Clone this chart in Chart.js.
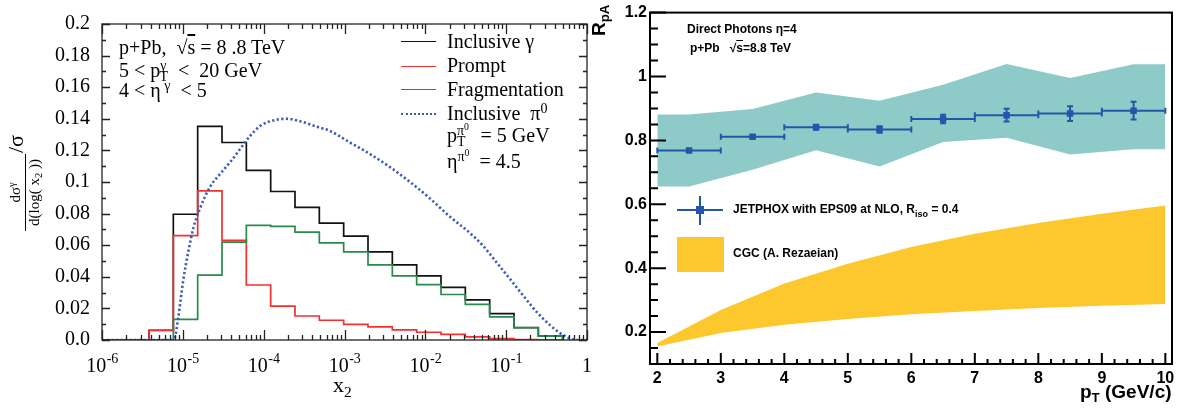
<!DOCTYPE html>
<html><head><meta charset="utf-8">
<script src="https://cdn.jsdelivr.net/npm/chart.js@4.4.1/dist/chart.umd.min.js"></script>
<style>
html,body{margin:0;padding:0;background:#fff;}
#wrap{position:relative;width:1189px;height:408px;overflow:hidden;background:#fff;}
.pane{position:absolute;top:0;height:408px;}
.t{position:absolute;white-space:nowrap;color:#000;z-index:5;}
.serif{font-family:"Liberation Serif","Times New Roman",serif;font-size:20px;line-height:20px;}
.sans{font-family:"Liberation Sans",Arial,sans-serif;font-weight:bold;font-size:12px;line-height:14px;}
.sup{position:relative;top:-0.5em;font-size:0.7em;line-height:0;}
.sub{position:relative;top:0.3em;font-size:0.7em;line-height:0;}
.ln{position:absolute;z-index:5;}
</style></head>
<body>
<div id="wrap">
  <div class="pane" style="left:0;width:600px;"><canvas id="c1"></canvas></div>
  <div class="pane" style="left:600px;width:589px;"><canvas id="c2"></canvas></div>

  <!-- left panel annotations -->
  <div class="t serif" style="left:119px;top:37px;">p+Pb,&nbsp; √<span style="text-decoration:overline">s</span> = 8 .8 TeV</div>
  <div class="t serif" style="left:119px;top:60px;">5 &lt; p<span class="sup">γ</span><span class="sub" style="margin-left:-7px">T</span>&nbsp; &lt;&nbsp; 20 GeV</div>
  <div class="t serif" style="left:119px;top:80px;">4 &lt; η<span class="sup">&nbsp;γ</span>&nbsp; &lt; 5</div>

  <div class="ln" style="left:401px;top:41px;width:35px;border-top:1.6px solid #111;"></div>
  <div class="ln" style="left:401px;top:66px;width:35px;border-top:1.6px solid #f23030;"></div>
  <div class="ln" style="left:401px;top:89px;width:35px;border-top:1.6px solid #2a8a4a;"></div>
  <div class="ln" style="left:401px;top:113px;width:35px;border-top:2.2px dotted #3a5cb8;"></div>
  <div class="t serif" style="left:447px;top:31px;">Inclusive γ</div>
  <div class="t serif" style="left:447px;top:55px;">Prompt</div>
  <div class="t serif" style="left:447px;top:79px;">Fragmentation</div>
  <div class="t serif" style="left:447px;top:103px;">Inclusive&nbsp; π<span class="sup">0</span></div>
  <div class="t serif" style="left:447px;top:125px;">p<span class="sup">π<span class="sup">0</span></span><span class="sub" style="margin-left:-12px">T</span>&nbsp;&nbsp; = 5 GeV</div>
  <div class="t serif" style="left:447px;top:151px;">η<span class="sup">π<span class="sup">0</span></span>&nbsp; = 4.5</div>

  <div class="t" style="left:-30px;top:163px;width:110px;height:40px;transform:rotate(-90deg);display:flex;align-items:center;justify-content:center;font-family:'Liberation Serif',serif;">
    <span style="display:inline-flex;flex-direction:column;align-items:center;">
      <span style="font-size:15px;line-height:15px;padding-bottom:2px;">dσ<span class="sup">γ</span></span>
      <span style="border-top:1px solid #000;width:77px;text-align:center;font-size:15px;line-height:16px;">d(log( x<span class="sub">2</span> ))</span>
    </span>
    <span style="font-size:22px;margin-left:1px;position:relative;top:-9px;">/σ</span>
  </div>
  <div class="t" style="left:333px;top:375px;font-family:'Liberation Serif',serif;font-size:22px;line-height:20px;">x<span class="sub">2</span></div>

  <!-- right panel annotations -->
  <div class="t sans" style="left:687px;top:22px;">Direct Photons η=4</div>
  <div class="t sans" style="left:690px;top:41px;">p+Pb&nbsp;&nbsp; √<span style="text-decoration:overline">s</span>=8.8 TeV</div>

  <div class="ln" style="left:677px;top:209px;width:46px;height:2px;background:#2356a8;"></div>
  <div class="ln" style="left:699px;top:196px;width:2px;height:29px;background:#2356a8;"></div>
  <div class="ln" style="left:696px;top:206px;width:8px;height:8px;background:#2356a8;"></div>
  <div class="t sans" style="left:733px;top:202px;">JETPHOX with EPS09 at NLO, R<span class="sub" style="font-size:0.75em;top:0.45em;">iso</span> = 0.4</div>
  <div class="ln" style="left:677px;top:237px;width:47px;height:35px;background:#fdc82e;"></div>
  <div class="t sans" style="left:733px;top:246px;">CGC (A. Rezaeian)</div>

  <div class="t" style="left:574px;top:9px;width:50px;height:24px;transform:rotate(-90deg);transform-origin:25px 12px;text-align:left;font-family:'Liberation Sans',Arial,sans-serif;font-weight:bold;font-size:19px;line-height:24px;padding-left:10px;box-sizing:border-box;">R<span class="sub" style="top:0.3em;">pA</span></div>
  <div class="t" style="left:1080px;top:381px;font-family:'Liberation Sans',Arial,sans-serif;font-weight:bold;font-size:19px;line-height:22px;">p<span class="sub">T</span> (GeV/c)</div>
</div>

<script>
// ---------------- data: left panel ----------------
const x2BinEdges = [3.815e-6, 7.629e-6, 1.526e-5, 3.052e-5, 6.104e-5, 1.221e-4, 2.441e-4, 4.883e-4,
  9.766e-4, 1.953e-3, 3.906e-3, 7.813e-3, 1.563e-2, 3.125e-2, 6.25e-2, 0.125, 0.25, 0.5];
const inclusiveGamma = [0.006, 0.0796, 0.1352, 0.125, 0.1073, 0.094, 0.084, 0.074, 0.0657, 0.0558,
  0.0475, 0.0406, 0.0333, 0.0254, 0.0167, 0.0079, 0.0025];
const promptGamma = [0.0063, 0.066, 0.0944, 0.063, 0.0348, 0.0215, 0.0152, 0.0125, 0.0099, 0.0083,
  0.0064, 0.0049, 0.0035, 0.002, 0.0009, 0.0003, 0.0001];
const fragGamma = [0, 0.0131, 0.041, 0.0619, 0.0725, 0.0719, 0.0683, 0.0615, 0.0558, 0.0475,
  0.0406, 0.035, 0.0288, 0.0225, 0.0146, 0.0077, 0.0024];
const pi0X = [1e-6, 7.4e-6, 7.9e-6, 8.8e-6, 1.01e-5, 1.17e-5, 1.35e-5, 1.63e-5, 2.17e-5, 2.88e-5,
  3.84e-5, 5.13e-5, 6.76e-5, 9.0e-5, 1.32e-4, 1.93e-4, 2.82e-4, 4.54e-4, 6.6e-4, 1.17e-3, 2.07e-3,
  3.66e-3, 6.46e-3, 1.14e-2, 2.02e-2, 3.57e-2, 5.22e-2, 7.64e-2, 0.112, 0.163, 0.239, 0.349, 0.509,
  0.746, 1.0];
const pi0Y = [0, 0, 0.001, 0.0146, 0.0375, 0.056, 0.0708, 0.0833, 0.0969, 0.105, 0.1125, 0.121,
  0.129, 0.1354, 0.139, 0.140, 0.1385, 0.135, 0.1323, 0.125, 0.1177, 0.1094, 0.100, 0.0896, 0.078,
  0.0677, 0.0594, 0.049, 0.0385, 0.028, 0.0177, 0.0094, 0.0031, 0, 0];
const x2TickValues = [1e-6, 1e-5, 1e-4, 1e-3, 1e-2, 1e-1, 1];
const x2TickExps = ['-6', '-5', '-4', '-3', '-2', '-1', ''];
const leftYTicks = [0, 0.02, 0.04, 0.06, 0.08, 0.1, 0.12, 0.14, 0.16, 0.18, 0.2];

// ---------------- data: right panel ----------------
const ptCenters = [2.5, 3.5, 4.5, 5.5, 6.5, 7.5, 8.5, 9.5];
const rpaJetphox = [0.768, 0.811, 0.841, 0.834, 0.867, 0.879, 0.884, 0.893];
const rpaErr = [0.003, 0.004, 0.008, 0.01, 0.013, 0.02, 0.023, 0.028];
const ptHalfWidth = [0.5, 0.5, 0.5, 0.5, 0.5, 0.5, 0.5, 0.5];
const bandPt = [2, 2.5, 3.5, 4.5, 5.5, 6.5, 7.5, 8.5, 9.5, 10];
const bandHigh = [0.881, 0.881, 0.898, 0.950, 0.924, 0.974, 1.039, 0.995, 1.038, 1.038];
const bandLow = [0.656, 0.656, 0.708, 0.769, 0.718, 0.795, 0.808, 0.756, 0.772, 0.772];
const cgcPt = [2, 3, 4, 5, 6, 7, 8, 9, 10];
const cgcHigh = [0.166, 0.269, 0.352, 0.414, 0.466, 0.508, 0.541, 0.570, 0.596];
const cgcLow = [0.155, 0.197, 0.223, 0.241, 0.256, 0.266, 0.275, 0.282, 0.288];
const rightXTicks = [2, 3, 4, 5, 6, 7, 8, 9, 10];
const rightYTicks = [0.2, 0.4, 0.6, 0.8, 1.0, 1.2];

// ---------------- helpers ----------------
function histPoints(edges, vals) {
  const pts = [{x: x2TickValues[0], y: 0}];
  vals.forEach((v, i) => pts.push({x: edges[i], y: v}));
  pts.push({x: edges[edges.length - 1], y: 0});
  return pts;
}
function zipXY(xs, ys) { return xs.map((x, i) => ({x: x, y: ys[i]})); }

Chart.defaults.animation = false;
Chart.defaults.devicePixelRatio = 1;

// ---------------- left chart ----------------
const leftFrame = {
  id: 'leftFrame',
  afterDatasetsDraw(chart) {
    const {ctx, chartArea: a, scales} = chart;
    const x = scales.x, y = scales.y;
    ctx.save();
    ctx.strokeStyle = '#222';
    ctx.lineWidth = 1.3;
    ctx.strokeRect(a.left, a.top, a.right - a.left, a.bottom - a.top);
    ctx.beginPath();
    x2TickValues.forEach((dec) => {
      for (let k = 1; k <= 9; k++) {
        const v = k * dec;
        if (v > x2TickValues[x2TickValues.length - 1] * 1.0001) break;
        const px = Math.round(x.getPixelForValue(v)) + 0.5;
        const len = k === 1 ? 10 : 5;
        ctx.moveTo(px, a.bottom); ctx.lineTo(px, a.bottom - len);
        ctx.moveTo(px, a.top); ctx.lineTo(px, a.top + len);
      }
    });
    for (let i = 0; i < leftYTicks.length; i++) {
      const v0 = leftYTicks[i];
      const py = Math.round(y.getPixelForValue(v0)) + 0.5;
      ctx.moveTo(a.left, py); ctx.lineTo(a.left + 8, py);
      ctx.moveTo(a.right, py); ctx.lineTo(a.right - 8, py);
      if (i < leftYTicks.length - 1) {
        const pm = Math.round(y.getPixelForValue((v0 + leftYTicks[i + 1]) / 2)) + 0.5;
        ctx.moveTo(a.left, pm); ctx.lineTo(a.left + 4, pm);
        ctx.moveTo(a.right, pm); ctx.lineTo(a.right - 4, pm);
      }
    }
    ctx.stroke();
    // x tick labels (10^n)
    ctx.fillStyle = '#000';
    ctx.textBaseline = 'alphabetic';
    x2TickValues.forEach((v, i) => {
      const px = x.getPixelForValue(v);
      const exp = x2TickExps[i];
      if (!exp) {
        ctx.font = '20px "Liberation Serif"';
        ctx.textAlign = 'center';
        ctx.fillText('1', px, 372);
        return;
      }
      ctx.font = '20px "Liberation Serif"';
      const wBase = ctx.measureText('10').width;
      ctx.font = '14px "Liberation Serif"';
      const wExp = ctx.measureText(exp).width;
      const start = px - (wBase + wExp) / 2;
      ctx.textAlign = 'left';
      ctx.font = '20px "Liberation Serif"';
      ctx.fillText('10', start, 372);
      ctx.font = '14px "Liberation Serif"';
      ctx.fillText(exp, start + wBase + 0.5, 363);
    });
    ctx.restore();
  }
};

new Chart(document.getElementById('c1'), {
  type: 'line',
  data: {
    datasets: [
      {label: 'Inclusive π0', data: zipXY(pi0X, pi0Y), borderColor: '#3a5cb8', borderWidth: 2.6,
       borderDash: [2.2, 2.4], pointRadius: 0, cubicInterpolationMode: 'monotone', fill: false},
      {label: 'Fragmentation', data: histPoints(x2BinEdges, fragGamma), borderColor: '#2a8a4a',
       borderWidth: 1.7, stepped: true, pointRadius: 0, fill: false},
      {label: 'Prompt', data: histPoints(x2BinEdges, promptGamma), borderColor: '#f23030',
       borderWidth: 1.7, stepped: true, pointRadius: 0, fill: false},
      {label: 'Inclusive γ', data: histPoints(x2BinEdges, inclusiveGamma), borderColor: '#111',
       borderWidth: 1.7, stepped: true, pointRadius: 0, fill: false}
    ]
  },
  options: {
    responsive: true, maintainAspectRatio: false, events: [],
    layout: {padding: {top: 20, right: 13, bottom: 68, left: 0}},
    plugins: {legend: {display: false}, tooltip: {enabled: false}},
    scales: {
      x: {type: 'logarithmic', min: 1e-6, max: 1, display: false},
      y: {
        type: 'linear', min: 0, max: 0.2,
        afterFit: s => { s.width = 102; },
        afterBuildTicks: s => { s.ticks = leftYTicks.map(v => ({value: v})); },
        grid: {display: false, drawTicks: false},
        border: {display: false},
        ticks: {
          autoSkip: false, padding: 12, color: '#000',
          font: {family: 'Liberation Serif', size: 20},
          callback: v => (v === 0 ? '0.0' : String(+v.toFixed(2)))
        }
      }
    }
  },
  plugins: [leftFrame]
});

// ---------------- right chart ----------------
const rightFrame = {
  id: 'rightFrame',
  beforeDatasetDraw(chart, args) {
    if (args.index !== 0) return;
    const {ctx, scales: {x, y}} = chart;
    ctx.save();
    ctx.strokeStyle = '#2356a8';
    ctx.lineWidth = 2;
    ctx.beginPath();
    ptCenters.forEach((c, i) => {
      const px = x.getPixelForValue(c), py = y.getPixelForValue(rpaJetphox[i]);
      const xl = x.getPixelForValue(c - ptHalfWidth[i]), xr = x.getPixelForValue(c + ptHalfWidth[i]);
      const yt = y.getPixelForValue(rpaJetphox[i] + rpaErr[i]), yb = y.getPixelForValue(rpaJetphox[i] - rpaErr[i]);
      ctx.moveTo(xl, py); ctx.lineTo(xr, py);
      ctx.moveTo(xl, py - 3); ctx.lineTo(xl, py + 3);
      ctx.moveTo(xr, py - 3); ctx.lineTo(xr, py + 3);
      ctx.moveTo(px, yt); ctx.lineTo(px, yb);
      ctx.moveTo(px - 3, yt); ctx.lineTo(px + 3, yt);
      ctx.moveTo(px - 3, yb); ctx.lineTo(px + 3, yb);
    });
    ctx.stroke();
    ctx.restore();
  },
  afterDatasetsDraw(chart) {
    const {ctx, chartArea: a, scales: {x, y}} = chart;
    ctx.save();
    ctx.strokeStyle = '#000';
    ctx.lineWidth = 2;
    ctx.strokeRect(a.left, a.top, a.right - a.left, a.bottom - a.top);
    ctx.beginPath();
    for (let i = 0; i < rightYTicks.length; i++) {
      const v0 = rightYTicks[i];
      const py = y.getPixelForValue(v0);
      ctx.moveTo(a.left, py); ctx.lineTo(a.left + 16, py);
      for (let j = 1; j <= 3; j++) {
        [v0 + j * 0.05, v0 - j * 0.05].forEach(v => {
          if (v >= y.min - 1e-9 && v <= y.max + 1e-9 && (i === 0 || v > v0)) {
            const pm = y.getPixelForValue(v);
            ctx.moveTo(a.left, pm); ctx.lineTo(a.left + 8, pm);
          }
        });
      }
    }
    for (let i = 0; i < rightXTicks.length; i++) {
      const v0 = rightXTicks[i];
      const px = x.getPixelForValue(v0);
      ctx.moveTo(px, a.bottom); ctx.lineTo(px, a.bottom - 11);
      if (i < rightXTicks.length - 1) {
        for (let j = 1; j <= 4; j++) {
          const pm = x.getPixelForValue(v0 + j * 0.2);
          ctx.moveTo(pm, a.bottom); ctx.lineTo(pm, a.bottom - 5);
        }
      }
    }
    ctx.stroke();
    ctx.restore();
  }
};

new Chart(document.getElementById('c2'), {
  type: 'line',
  data: {
    datasets: [
      {label: 'JETPHOX with EPS09 at NLO', data: zipXY(ptCenters, rpaJetphox), showLine: false,
       pointStyle: 'rect', pointRadius: 4.6, backgroundColor: '#2356a8', borderColor: '#2356a8', borderWidth: 0},
      {label: 'EPS09 band high', data: zipXY(bandPt, bandHigh), fill: '+1', backgroundColor: '#8ecac8',
       borderWidth: 0, borderColor: 'rgba(0,0,0,0)', pointRadius: 0, tension: 0},
      {label: 'EPS09 band low', data: zipXY(bandPt, bandLow), fill: false,
       borderWidth: 0, borderColor: 'rgba(0,0,0,0)', pointRadius: 0, tension: 0},
      {label: 'CGC high', data: zipXY(cgcPt, cgcHigh), fill: '+1', backgroundColor: '#fdc82e',
       borderWidth: 0, borderColor: 'rgba(0,0,0,0)', pointRadius: 0, tension: 0},
      {label: 'CGC low', data: zipXY(cgcPt, cgcLow), fill: false,
       borderWidth: 0, borderColor: 'rgba(0,0,0,0)', pointRadius: 0, tension: 0}
    ]
  },
  options: {
    responsive: true, maintainAspectRatio: false, events: [],
    layout: {padding: {top: 11, right: 17, bottom: 0, left: 0}},
    plugins: {legend: {display: false}, tooltip: {enabled: false}},
    scales: {
      x: {
        type: 'linear', min: 1.885, max: 10.105,
        afterFit: s => { s.height = 44; },
        afterBuildTicks: s => { s.ticks = rightXTicks.map(v => ({value: v})); },
        grid: {display: false, drawTicks: false},
        border: {display: false},
        ticks: {autoSkip: false, maxRotation: 0, padding: 5, color: '#000',
          font: {family: 'Liberation Sans', size: 16, weight: 'bold'}}
      },
      y: {
        type: 'linear', min: 0.1, max: 1.2,
        afterFit: s => { s.width = 50; },
        afterBuildTicks: s => { s.ticks = rightYTicks.map(v => ({value: v})); },
        grid: {display: false, drawTicks: false},
        border: {display: false},
        ticks: {autoSkip: false, padding: 3, color: '#000',
          font: {family: 'Liberation Sans', size: 16, weight: 'bold'},
          callback: v => (Math.abs(v - 1) < 1e-9 ? '1' : v.toFixed(1))}
      }
    }
  },
  plugins: [rightFrame]
});
</script>
</body></html>
